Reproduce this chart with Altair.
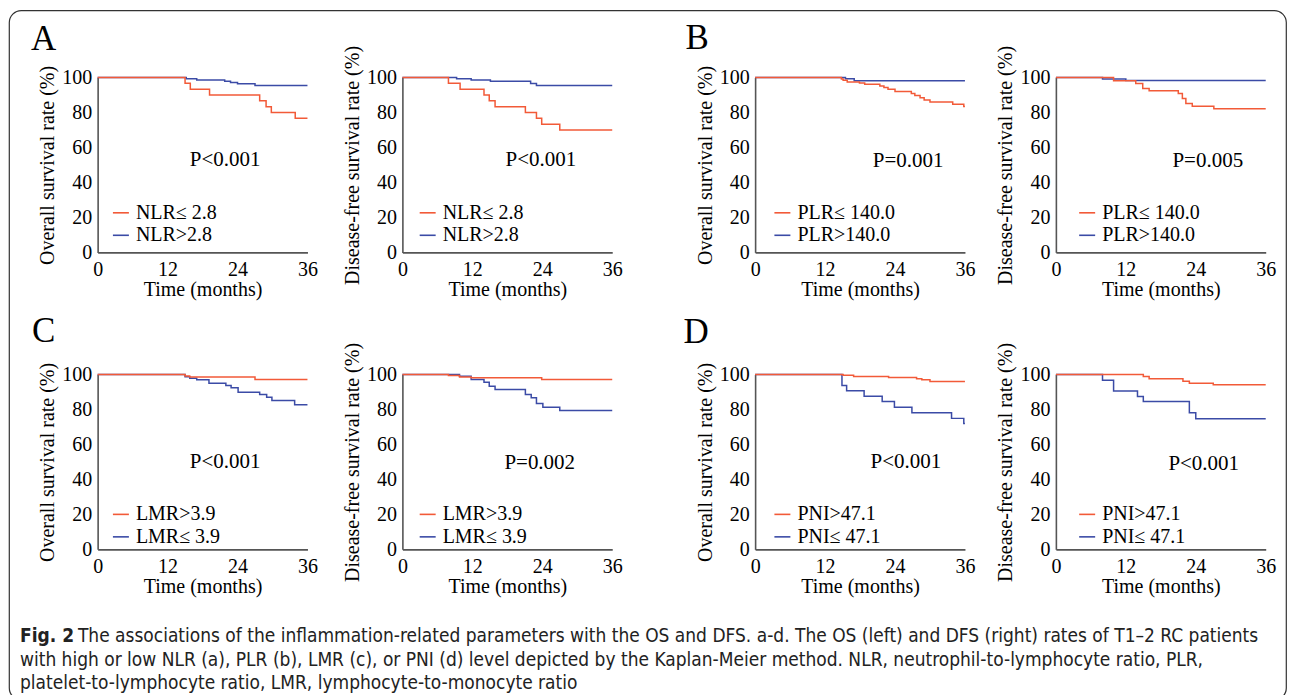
import altair as alt
import pandas as pd

# ---------------- data ----------------
X_TICKS = [0, 12, 24, 36]
Y_TICKS = [0, 20, 40, 60, 80, 100]
OS_TITLE = "Overall survival rate (%)"
DFS_TITLE = "Disease-free survival rate (%)"
X_TITLE = "Time (months)"

# A  - NLR
a_os_lab = ["NLR\u2264 2.8", "NLR>2.8"]
a_os_red_t = [0, 15.0, 15.9, 19.2, 27.8, 28.9, 29.8, 33.9, 36]
a_os_red_s = [100, 96.7, 93.3, 90.0, 86.7, 83.3, 80.0, 76.7, 76.7]
a_os_blue_t = [0, 15.2, 17.0, 21.8, 22.8, 24.0, 27.0, 36]
a_os_blue_s = [100, 99.3, 98.6, 97.9, 97.2, 96.4, 95.5, 95.5]
a_os_p = "P<0.001"

a_dfs_red_t = [0, 7.9, 9.9, 14.0, 14.9, 15.9, 21.1, 23.0, 23.9, 27.0, 36]
a_dfs_red_s = [100, 96.7, 93.3, 90.0, 86.7, 83.3, 80.0, 76.7, 73.3, 70.0, 70.0]
a_dfs_blue_t = [0, 9.3, 11.8, 15.1, 22.0, 23.0, 36]
a_dfs_blue_s = [100, 99.3, 98.6, 97.9, 96.6, 95.4, 95.4]
a_dfs_p = "P<0.001"

# B - PLR
b_lab = ["PLR\u2264 140.0", "PLR>140.0"]
b_os_red_t = [0, 14.8, 15.1, 15.8, 17.9, 18.8, 21.4, 22.1, 22.8, 24.0, 26.8, 27.4, 28.3, 29.0, 30.0, 33.9, 35.8, 36]
b_os_red_s = [100, 99.2, 98.5, 97.5, 96.9, 96.2, 95.2, 94.3, 93.3, 92.0, 90.8, 89.7, 88.5, 87.2, 86.0, 84.7, 83.4, 83.4]
b_os_blue_t = [0, 15.5, 17.0, 36]
b_os_blue_s = [100, 99.3, 98.1, 98.1]
b_os_p = "P=0.001"

b_dfs_red_t = [0, 9.9, 13.7, 14.9, 16.0, 21.0, 21.7, 22.3, 23.4, 27.1, 36]
b_dfs_red_s = [100, 98.1, 96.6, 93.7, 92.4, 90.8, 88.0, 85.1, 83.6, 82.2, 82.2]
b_dfs_blue_t = [0, 8.0, 12.0, 36]
b_dfs_blue_s = [100, 99.2, 98.3, 98.3]
b_dfs_p = "P=0.005"

# C - LMR
c_lab = ["LMR>3.9", "LMR\u2264 3.9"]
c_os_red_t = [0, 15.0, 15.8, 27.0, 36]
c_os_red_s = [100, 99.2, 98.5, 97.1, 97.1]
c_os_blue_t = [0, 15.0, 15.8, 17.0, 19.1, 22.0, 22.9, 24.1, 27.8, 29.0, 29.9, 33.8, 36]
c_os_blue_s = [100, 98.7, 97.9, 97.0, 95.0, 93.7, 92.4, 89.9, 88.6, 87.0, 85.1, 82.7, 82.7]
c_os_p = "P<0.001"

c_dfs_red_t = [0, 7.9, 9.8, 11.8, 23.9, 36]
c_dfs_red_s = [100, 99.4, 98.5, 98.1, 97.1, 97.1]
c_dfs_blue_t = [0, 9.8, 11.8, 14.0, 14.9, 15.9, 21.1, 22.1, 23.0, 24.1, 27.0, 36]
c_dfs_blue_s = [100, 99.0, 97.1, 95.6, 93.3, 91.4, 88.6, 86.7, 83.4, 81.3, 79.4, 79.4]
c_dfs_p = "P=0.002"

# D - PNI
d_lab = ["PNI>47.1", "PNI\u2264 47.1"]
d_os_red_t = [0, 15.1, 16.9, 22.9, 27.7, 28.6, 30.0, 36]
d_os_red_s = [100, 99.6, 98.9, 98.3, 97.5, 97.0, 96.0, 96.0]
d_os_blue_t = [0, 14.9, 15.7, 18.7, 21.8, 23.9, 26.9, 33.7, 35.8, 36]
d_os_blue_s = [100, 93.7, 90.7, 87.5, 84.6, 81.2, 78.1, 74.9, 71.9, 71.9]
d_os_p = "P<0.001"

d_dfs_red_t = [0, 15.0, 16.0, 21.8, 22.9, 27.0, 36]
d_dfs_red_s = [100, 98.9, 97.5, 96.2, 95.0, 94.1, 94.1]
d_dfs_blue_t = [0, 8.0, 9.9, 14.0, 15.0, 22.9, 24.0, 36]
d_dfs_blue_s = [100, 96.7, 90.5, 87.4, 84.6, 78.1, 74.7, 74.7]
d_dfs_p = "P<0.001"

# p-value label anchor (months, %)
p_pos_t = [15.8, 17.7, 20.2, 20.0, 15.8, 17.5, 19.8, 19.3]
p_pos_s = [52.8, 52.8, 52.2, 52.0, 49.9, 49.5, 50.0, 48.9]

PANEL_LETTERS = ["A", "B", "C", "D"]
CAPTION_BOLD = "Fig. 2"
CAPTION_LINES = [
    "The associations of the inflammation-related parameters with the OS and DFS. a-d. The OS (left) and DFS (right) rates of T1\u20132 RC patients",
    "with high or low NLR (a), PLR (b), LMR (c), or PNI (d) level depicted by the Kaplan-Meier method. NLR, neutrophil-to-lymphocyte ratio, PLR,",
    "platelet-to-lymphocyte ratio, LMR, lymphocyte-to-monocyte ratio",
]

# ---------------- layout / style ----------------
VIEW_W, VIEW_H = 1278, 690
PANEL_W, PANEL_H = 210, 175
COL_X = [88.7, 393.7, 746.7, 1047.7]
ROW_Y = [67.3, 364.5]
LEG_X = [102, 409, 764, 1069]
LEG_Y = [192.7, 494.5]
RED = "#F25A38"
BLUE = "#3B4BA6"
SERIF = "Liberation Serif"
SANS = "DejaVu Sans Condensed, Liberation Sans Narrow, sans-serif"
FS = 20
CAP_FS = 19


def panel(row, col, labels, red_t, red_s, blue_t, blue_s, ytitle, ptext, pt, ps):
    x0 = COL_X[col]
    y0 = ROW_Y[row]
    rows = []
    for t, s in zip(blue_t, blue_s):
        rows.append({"t": t, "s": s, "g": labels[1]})
    for t, s in zip(red_t, red_s):
        rows.append({"t": t, "s": s, "g": labels[0]})
    df = pd.DataFrame(rows)
    xs = alt.Scale(domain=[0, 36], range=[x0, x0 + PANEL_W], nice=False, zero=False)
    ys = alt.Scale(domain=[0, 100], range=[y0 + PANEL_H, y0], nice=False, zero=False)
    xax = alt.Axis(orient="bottom", values=X_TICKS, title=X_TITLE,
                   offset=(y0 + PANEL_H) - VIEW_H)
    yax = alt.Axis(orient="left", values=Y_TICKS, title=ytitle, offset=-x0)
    lines = alt.Chart(df).mark_line(interpolate="step-after", strokeWidth=1.5).encode(
        x=alt.X("t:Q", scale=xs, axis=xax),
        y=alt.Y("s:Q", scale=ys, axis=yax),
        color=alt.Color(
            "g:N",
            sort=labels,
            scale=alt.Scale(domain=labels, range=[RED, BLUE]),
            legend=alt.Legend(orient="none", legendX=LEG_X[col], legendY=LEG_Y[row],
                              title=None),
        ),
    )
    pdf = pd.DataFrame({"t": [pt], "s": [ps], "p": [ptext]})
    ptxt = alt.Chart(pdf).mark_text(align="left", baseline="middle", font=SERIF,
                                    fontSize=21, color="black").encode(
        x=alt.X("t:Q", scale=xs, axis=xax),
        y=alt.Y("s:Q", scale=ys, axis=yax),
        text="p:N",
    )
    return alt.layer(lines, ptxt)


panels = [
    panel(0, 0, a_os_lab, a_os_red_t, a_os_red_s, a_os_blue_t, a_os_blue_s, OS_TITLE, a_os_p, p_pos_t[0], p_pos_s[0]),
    panel(0, 1, a_os_lab, a_dfs_red_t, a_dfs_red_s, a_dfs_blue_t, a_dfs_blue_s, DFS_TITLE, a_dfs_p, p_pos_t[1], p_pos_s[1]),
    panel(0, 2, b_lab, b_os_red_t, b_os_red_s, b_os_blue_t, b_os_blue_s, OS_TITLE, b_os_p, p_pos_t[2], p_pos_s[2]),
    panel(0, 3, b_lab, b_dfs_red_t, b_dfs_red_s, b_dfs_blue_t, b_dfs_blue_s, DFS_TITLE, b_dfs_p, p_pos_t[3], p_pos_s[3]),
    panel(1, 0, c_lab, c_os_red_t, c_os_red_s, c_os_blue_t, c_os_blue_s, OS_TITLE, c_os_p, p_pos_t[4], p_pos_s[4]),
    panel(1, 1, c_lab, c_dfs_red_t, c_dfs_red_s, c_dfs_blue_t, c_dfs_blue_s, DFS_TITLE, c_dfs_p, p_pos_t[5], p_pos_s[5]),
    panel(1, 2, d_lab, d_os_red_t, d_os_red_s, d_os_blue_t, d_os_blue_s, OS_TITLE, d_os_p, p_pos_t[6], p_pos_s[6]),
    panel(1, 3, d_lab, d_dfs_red_t, d_dfs_red_s, d_dfs_blue_t, d_dfs_blue_s, DFS_TITLE, d_dfs_p, p_pos_t[7], p_pos_s[7]),
]


def label(text, x, y, **kw):
    return alt.Chart(pd.DataFrame({"txt": [text]})).mark_text(**kw).encode(
        text="txt:N", x=alt.value(x), y=alt.value(y))


LETTER_POS = [(22, 40), (677, 39), (23, 332), (675, 333)]
letters = [label(L, x, y, font=SERIF, fontSize=35, align="left", baseline="alphabetic", color="black")
           for L, (x, y) in zip(PANEL_LETTERS, LETTER_POS)]

CAP_X = 11
CAP_Y = [626, 650, 673]
caption = [label(CAPTION_BOLD, CAP_X, CAP_Y[0], font=SANS, fontSize=CAP_FS, fontWeight="bold",
                 align="left", baseline="middle", color="#222")]
caption.append(label(CAPTION_LINES[0], CAP_X + 58, CAP_Y[0], font=SANS, fontSize=CAP_FS,
                     align="left", baseline="middle", color="#222"))
caption.append(label(CAPTION_LINES[1], CAP_X, CAP_Y[1], font=SANS, fontSize=CAP_FS,
                     align="left", baseline="middle", color="#222"))
caption.append(label(CAPTION_LINES[2], CAP_X, CAP_Y[2], font=SANS, fontSize=CAP_FS,
                     align="left", baseline="middle", color="#222"))

chart = alt.layer(*panels, *letters, *caption).resolve_scale(
    x="independent", y="independent", color="independent"
).resolve_axis(
    x="independent", y="independent"
).resolve_legend(
    color="independent"
).properties(
    width=VIEW_W, height=VIEW_H,
    autosize=alt.AutoSizeParams(type="none"),
    padding={"left": 1, "top": 2, "right": 1, "bottom": 1},
).configure_view(
    stroke="#333", strokeWidth=1.2, cornerRadius=12
).configure_axis(
    grid=False, ticks=False, tickSize=0, labelPadding=6, titlePadding=4,
    labelFont=SERIF, labelFontSize=FS, labelColor="black",
    titleFont=SERIF, titleFontSize=FS, titleFontWeight="normal", titleColor="black",
    domainColor="#555", domainWidth=1.6, labelFlush=False, labelOverlap=False,
).configure_axisX(
    labelPadding=7, titlePadding=0
).configure_legend(
    labelFont=SERIF, labelFontSize=FS, labelColor="black", symbolType="stroke",
    symbolSize=256, symbolStrokeWidth=1.6, rowPadding=2.5, padding=0, labelOffset=5,
)

chart.save("out.html", embed_options={"renderer": "svg", "actions": False})
